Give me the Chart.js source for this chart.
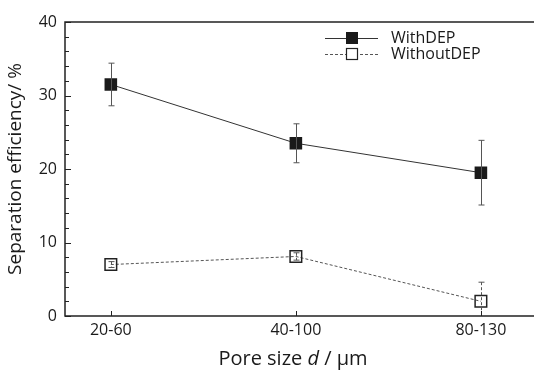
<!DOCTYPE html>
<html><head><meta charset="utf-8">
<script src="https://cdn.jsdelivr.net/npm/chart.js@4"></script>
<style>
html,body{margin:0;padding:0;overflow:hidden;background:#fff;width:534px;height:371px}
#wrap{width:534px;height:371px;position:relative;overflow:hidden}
</style></head>
<body><div id="wrap"><canvas id="c" width="545" height="371"></canvas></div>
<script>
const categories = ['20-60', '40-100', '80-130'];
const withDEP = [31.5, 23.5, 19.5];
const withDEPErr = [2.9, 2.65, 4.4];
const withoutDEP = [7.0, 8.1, 2.0];
const withoutDEPErr = [0.4, 0.5, 2.6];
const yTickValues = [0, 10, 20, 30, 40];
const seriesNames = ['WithDEP', 'WithoutDEP'];

const FONT = '"Open Sans", "Noto Sans", sans-serif';
const TXT = '#1a1a1a';

const toXY = arr => arr.map((v, i) => ({x: i, y: v}));

const decor = {
  id: 'decor',
  afterDatasetsDraw(chart) {
    const {ctx, chartArea: ca, scales: {x, y}} = chart;
    ctx.save();
    // error bars
    const drawErr = (vals, errs, dashed) => {
      ctx.strokeStyle = '#555';
      ctx.lineWidth = 1;
      vals.forEach((v, i) => {
        const px = Math.round(x.getPixelForValue(i)) + 0.5;
        const yt = y.getPixelForValue(v + errs[i]);
        const yb = Math.min(y.getPixelForValue(v - errs[i]), ca.bottom);
        ctx.setLineDash(dashed ? [3, 2] : []);
        ctx.beginPath(); ctx.moveTo(px, yt); ctx.lineTo(px, yb); ctx.stroke();
        ctx.setLineDash([]);
        ctx.beginPath();
        ctx.moveTo(px - 3, yt); ctx.lineTo(px + 3, yt);
        if (yb < ca.bottom) { ctx.moveTo(px - 3, yb); ctx.lineTo(px + 3, yb); }
        ctx.stroke();
      });
    };
    drawErr(withDEP, withDEPErr, false);
    drawErr(withoutDEP, withoutDEPErr, true);

    // frame (right side runs past the visible edge, as in the cropped original)
    ctx.strokeStyle = '#222';
    ctx.lineWidth = 1.5;
    ctx.beginPath();
    ctx.moveTo(chart.width, ca.top); ctx.lineTo(ca.left, ca.top);
    ctx.lineTo(ca.left, ca.bottom); ctx.lineTo(chart.width, ca.bottom);
    ctx.stroke();

    // y ticks (inward)
    ctx.lineWidth = 1;
    for (let v = 0; v <= 40; v += 2) {
      const py = Math.round(y.getPixelForValue(v)) + 0.5;
      const len = v % 10 === 0 ? 6 : 4;
      ctx.beginPath(); ctx.moveTo(ca.left, py); ctx.lineTo(ca.left + len, py); ctx.stroke();
    }
    // x ticks (inward)
    categories.forEach((c, i) => {
      const px = Math.round(x.getPixelForValue(i)) + 0.5;
      ctx.beginPath(); ctx.moveTo(px, ca.bottom); ctx.lineTo(px, ca.bottom - 5); ctx.stroke();
    });

    // legend
    const lx0 = 325, lx1 = 378, mx = 352;
    const rows = [38, 54];
    ctx.lineWidth = 1;
    ctx.strokeStyle = '#333';
    ctx.beginPath(); ctx.moveTo(lx0, rows[0] + 0.5); ctx.lineTo(lx1, rows[0] + 0.5); ctx.stroke();
    ctx.fillStyle = '#1a1a1a';
    ctx.fillRect(mx - 6, rows[0] - 6, 12, 12);
    ctx.strokeStyle = '#555';
    ctx.setLineDash([3, 2]);
    ctx.beginPath(); ctx.moveTo(lx0, rows[1] + 0.5); ctx.lineTo(lx1, rows[1] + 0.5); ctx.stroke();
    ctx.setLineDash([]);
    ctx.fillStyle = '#fff';
    ctx.fillRect(mx - 5.5, rows[1] - 5.5, 11, 11);
    ctx.strokeStyle = '#222';
    ctx.lineWidth = 1.2;
    ctx.strokeRect(mx - 5.5, rows[1] - 5.5, 11, 11);
    ctx.fillStyle = TXT;
    ctx.font = '16px ' + FONT;
    ctx.textAlign = 'left';
    ctx.textBaseline = 'middle';
    ctx.fillText(seriesNames[0], 391, rows[0]);
    ctx.fillText(seriesNames[1], 391, rows[1]);

    // x title with italic d
    const parts = [['Pore size ', 'normal'], ['d', 'italic'], [' / µm', 'normal']];
    let total = 0;
    parts.forEach(p => { ctx.font = p[1] + ' 20px ' + FONT; total += ctx.measureText(p[0]).width; });
    let tx = 293 - total / 2;
    parts.forEach(p => {
      ctx.font = p[1] + ' 20px ' + FONT;
      ctx.fillText(p[0], tx, 359);
      tx += ctx.measureText(p[0]).width;
    });

    // y title
    ctx.save();
    ctx.translate(16, (ca.top + ca.bottom) / 2);
    ctx.rotate(-Math.PI / 2);
    ctx.textAlign = 'center';
    ctx.font = '19px ' + FONT;
    ctx.fillText('Separation efficiency/ %', 0, 0);
    ctx.restore();

    ctx.restore();
  }
};

new Chart(document.getElementById('c'), {
  type: 'line',
  data: {
    datasets: [
      {
        label: seriesNames[0],
        data: toXY(withDEP),
        borderColor: '#333',
        borderWidth: 1,
        pointStyle: 'rect',
        pointRadius: 8.9,
        pointBackgroundColor: '#1a1a1a',
        pointBorderColor: '#1a1a1a',
        pointBorderWidth: 0,
        tension: 0
      },
      {
        label: seriesNames[1],
        data: toXY(withoutDEP),
        borderColor: '#555',
        borderWidth: 1,
        borderDash: [3, 2],
        pointStyle: 'rect',
        pointRadius: 8.2,
        pointBackgroundColor: 'rgba(255,255,255,0)',
        pointBorderColor: '#222',
        pointBorderWidth: 1.5,
        tension: 0
      }
    ]
  },
  options: {
    responsive: false,
    animation: false,
    events: [],
    layout: {padding: {top: 22, left: 0, right: 0, bottom: 0}},
    plugins: {legend: {display: false}, tooltip: {enabled: false}},
    scales: {
      x: {
        type: 'linear',
        min: -0.2477,
        max: 2.294,
        afterBuildTicks: s => { s.ticks = categories.map((c, i) => ({value: i})); },
        ticks: {
          callback: (v) => categories[v],
          color: TXT,
          font: {family: FONT, size: 16},
          padding: 5,
          maxRotation: 0,
          autoSkip: false
        },
        grid: {display: false, drawTicks: false},
        border: {display: false},
        afterFit: s => { s.height = 55; }
      },
      y: {
        min: 0,
        max: 40,
        afterBuildTicks: s => { s.ticks = yTickValues.map(v => ({value: v})); },
        ticks: {
          color: TXT,
          font: {family: FONT, size: 16},
          padding: 8
        },
        grid: {display: false, drawTicks: false},
        border: {display: false},
        afterFit: s => { s.width = 65; }
      }
    }
  },
  plugins: [decor]
});
</script>
</body></html>
